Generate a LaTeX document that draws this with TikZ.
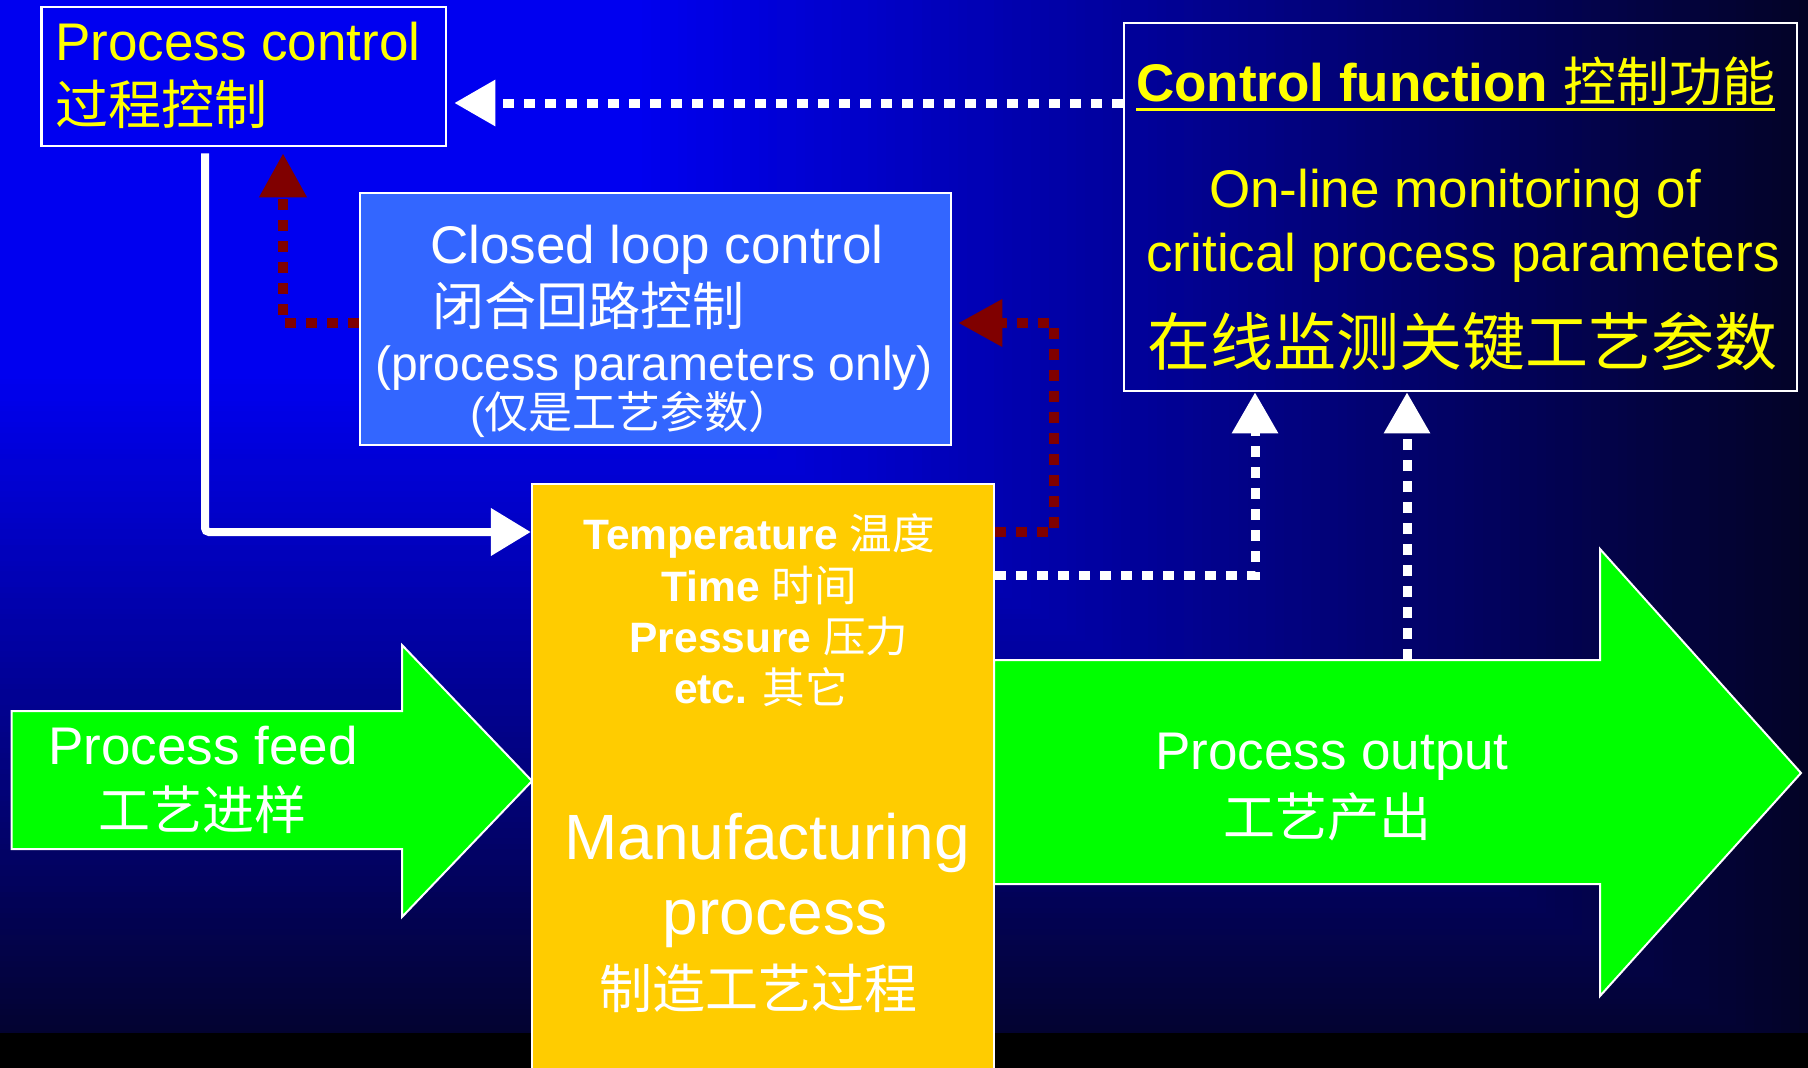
\documentclass[tikz,border=0pt]{standalone}
\usepackage{fontspec}
\setmainfont{Liberation Sans}
\newfontfamily\cjk{Noto Sans CJK SC}
\usetikzlibrary{arrows.meta}

\definecolor{bgblue}{RGB}{0,0,240}
\definecolor{bgdark}{RGB}{3,3,38}
\definecolor{clblue}{RGB}{51,102,255}
\definecolor{mfyellow}{RGB}{255,204,0}
\definecolor{flowgreen}{RGB}{0,255,0}
\definecolor{loopred}{RGB}{128,0,0}
\definecolor{txtyellow}{RGB}{255,255,0}

\newcommand\zh[1]{{\cjk\mdseries #1}}
\newcommand\fs[1]{\fontsize{#1}{#1}\selectfont}

\begin{document}
\begin{tikzpicture}[x=1pt,y=-1pt,
  frame/.style={draw=white, line width=2.5pt, inner sep=0pt},
  lbl/.style={inner sep=0pt, anchor=base},
  lblw/.style={inner sep=0pt, anchor=base west},
  flow/.style={fill=flowgreen, draw=white, line width=2pt},
  wdot/.style={draw=white, line width=9pt, dash pattern=on 11pt off 10pt,
    -{Triangle[length=41pt,width=44pt]}},
  rdot/.style={draw=loopred, line width=10pt, dash pattern=on 11pt off 10pt,
    -{Triangle[length=44pt,width=45pt]}},
  wline/.style={draw=white, line width=8pt, rounded corners=4pt,
    -{Triangle[length=40pt,width=46pt]}}
]
\useasboundingbox (0,0) rectangle (1808,1068);

% background: rectangular gradient spreading from the top-left corner
\foreach \i in {200,199,...,1}{
  \pgfmathtruncatemacro{\p}{max(0,min(100,(\i/2-35)/65*100))}
  \fill[bgdark!\p!bgblue] (0,0) rectangle (\i*9.04,\i*5.34);
}
\fill[black] (0,1033) rectangle (1808,1068);

% process feed and process output arrows
\draw[flow] (11.5,711) -- (402,711) -- (402,645) -- (532,781) -- (402,917)
  -- (402,849) -- (11.5,849) -- cycle;
\draw[flow] (994,660) -- (1600,660) -- (1600,549) -- (1801,773) -- (1600,996)
  -- (1600,884) -- (994,884) -- cycle;
\coordinate (otop) at (1407,660);

% boxes
\node[frame, minimum width=404.5pt, minimum height=139pt] (pc) at (243.75,76.5) {};
\node[frame, minimum width=673pt, minimum height=368pt] (cf) at (1460.5,207) {};
\node[frame, fill=clblue, minimum width=591pt, minimum height=252pt] (cl) at (655.5,319) {};
\node[frame, fill=mfyellow, minimum width=462pt, minimum height=590pt] (mp) at (763,779) {};

% process control
\node[lblw, text=txtyellow, font=\fs{53}] (pct1) at (55,60) {Process control};
\node[lblw, text=txtyellow, font=\fs{53}] (pct2) at (55,124) {\zh{过程控制}};

% control function
\node[lblw, text=txtyellow, font=\fs{53}\bfseries] (cft) at (1136,101.5)
  {Control function \zh{控制功能}};
\draw[txtyellow, line width=3.5pt] ([yshift=-8pt]cft.base west) -- ([yshift=-8pt]cft.base east);
\node[lbl, text=txtyellow, font=\fs{53}] (cf1) at (1455,207) {On-line monitoring of};
\node[lbl, text=txtyellow, font=\fs{53}] (cf2) at (1463,271) {critical process parameters};
\node[lbl, text=txtyellow, font=\fs{63}] (cf3) at (1462,365) {\zh{在线监测关键工艺参数}};

% closed loop control
\node[lbl, text=white, font=\fs{53}] (cl1) at (657,263) {Closed loop control};
\node[lblw, text=white, font=\fs{52}] (cl2) at (432,325) {\zh{闭合回路控制}};
\node[lbl, text=white, font=\fs{48}] (cl3) at (654,380) {(process parameters only)};
\node[lblw, text=white, font=\fs{44}] (cl4) at (470,428) {(\zh{仅是工艺参数）}};

% manufacturing process
\node[lbl, text=white, font=\fs{42.5}] (mp1) at (759,549) {\bfseries Temperature \zh{温度}};
\node[lbl, text=white, font=\fs{42.5}] (mp2) at (759,601) {\bfseries Time \zh{时间}};
\node[lbl, text=white, font=\fs{42.5}] (mp3) at (769,652) {\bfseries Pressure \zh{压力}};
\node[lbl, text=white, font=\fs{42.5}] (mp4) at (761,703) {\bfseries etc. \zh{其它}};
\node[lbl, text=white, font=\fs{64}] (mp5) at (767,859) {Manufacturing};
\node[lbl, text=white, font=\fs{64}] (mp6) at (775,934) {process};
\node[lbl, text=white, font=\fs{53}] (mp7) at (758,1008) {\zh{制造工艺过程}};

% flow labels
\node[lbl, text=white, font=\fs{53}] (pf1) at (203,764) {Process feed};
\node[lbl, text=white, font=\fs{52}] (pf2) at (202,829) {\zh{工艺进样}};
\node[lbl, text=white, font=\fs{53}] (po1) at (1332,769) {Process output};
\node[lbl, text=white, font=\fs{52}] (po2) at (1327,836) {\zh{工艺产出}};

% connectors
\coordinate (fb) at (1124,103);
\draw[wdot] (cf.west |- fb) -- ([xshift=7pt]pc.east |- fb);

\coordinate (wc) at (205,532);
\draw[wline] ([yshift=-6pt]pc.south -| wc) -- (wc) -- (mp.west |- wc);

\coordinate (rl) at (283,323);
\draw[rdot] (cl.west |- rl) -- (rl) -- ([yshift=-6pt]pc.south -| rl);

\coordinate (rr) at (1054,532);
\draw[rdot] (mp.east |- rr) -- (rr) -- (rr |- rl) -- ([xshift=6pt]cl.east |- rl);

\coordinate (md) at (1255,575);
\draw[wdot] (mp.east |- md) -- (md) -- (md |- cf.south);

\draw[wdot] (otop) -- (otop |- cf.south);
\end{tikzpicture}
\end{document}
